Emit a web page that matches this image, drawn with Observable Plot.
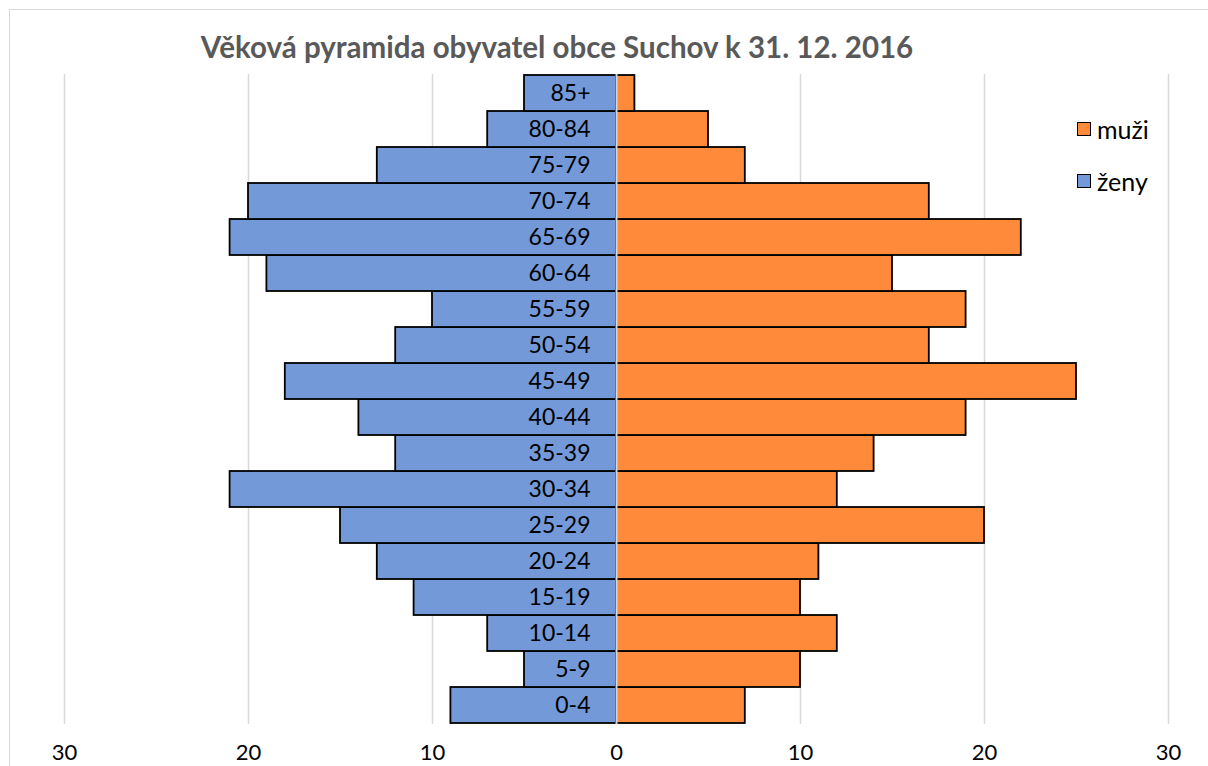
<!DOCTYPE html>
<html>
<head>
<meta charset="utf-8">
<script src="https://cdn.jsdelivr.net/npm/d3@7"></script>
<script src="https://cdn.jsdelivr.net/npm/@observablehq/plot@0.6"></script>
<style>
  html, body { margin: 0; padding: 0; background: #fff; }
  #wrap { position: relative; width: 1208px; height: 766px; overflow: hidden; font-family: Lato, "Open Sans", sans-serif; }
  #frame { position: absolute; left: 9px; top: 9px; width: 1300px; height: 900px; border: 1.5px solid #d9d9d9; box-sizing: border-box; }
  #title { position: relative; height: 60px; width: 1114px; text-align: center; font-weight: bold; font-size: 29.5px; color: #595959; line-height: 1; padding-top: 32px; box-sizing: border-box; }
  #chart { position: relative; }
  #legend { position: absolute; left: 1077px; top: 114px; font-size: 25px; color: #000; }
  .li { display: flex; align-items: center; height: 30px; margin-bottom: 22px; }
  .sw { width: 12px; height: 12px; border: 1.5px solid #000; margin-right: 6px; }
</style>
</head>
<body>
<div id="wrap">
  <div id="frame"></div>
  <div id="title">Věková pyramida obyvatel obce Suchov k 31. 12. 2016</div>
  <div id="chart"></div>
  <div id="legend"></div>
</div>
<script>
const ageGroups = ["0-4","5-9","10-14","15-19","20-24","25-29","30-34","35-39","40-44","45-49","50-54","55-59","60-64","65-69","70-74","75-79","80-84","85+"];
const muzi = [7,10,12,10,11,20,12,14,19,25,17,19,15,22,17,7,5,1];
const zeny = [9,5,7,11,13,15,21,12,14,18,12,10,19,21,20,13,7,5];
const xTicks = [-30,-20,-10,0,10,20,30];
const seriesNames = ["muži","ženy"];
const colors = ["#FF8A3A","#7399D9"];

const data = [];
ageGroups.forEach((g,i) => {
  data.push({age: g, sex: "muži", value: muzi[i]});
  data.push({age: g, sex: "ženy", value: -zeny[i]});
});

const plot = Plot.plot({
  width: 1208,
  height: 706,
  marginLeft: 64,
  marginRight: 40,
  marginTop: 14,
  marginBottom: 42,
  style: {fontFamily: "Lato, 'Open Sans', sans-serif", fontSize: "22px", color: "#000", background: "transparent"},
  x: {domain: [-30, 30], ticks: xTicks, tickFormat: d => Math.abs(d), tickSize: 0, tickPadding: 20, label: null},
  y: {domain: ageGroups.slice().reverse(), padding: 0, axis: null},
  color: {domain: seriesNames, range: colors},
  marks: [
    Plot.ruleX(xTicks.filter(d => d !== 0), {stroke: "#d9d9d9", strokeWidth: 1.5}),
    Plot.barX(data, {x: "value", y: "age", fill: "sex", stroke: "#000", strokeWidth: 1.8}),
    Plot.ruleX([0], {stroke: "#cfd6e0", strokeWidth: 2}),
    Plot.text(ageGroups, {x: () => 0, y: d => d, text: d => d, textAnchor: "end", dx: -26, fontSize: 23, fill: "#000"})
  ]
});
document.getElementById("chart").appendChild(plot);

const legend = document.getElementById("legend");
seriesNames.forEach((n, i) => {
  const row = document.createElement("div");
  row.className = "li";
  const sw = document.createElement("div");
  sw.className = "sw";
  sw.style.background = colors[i];
  const t = document.createElement("span");
  t.textContent = n;
  row.appendChild(sw); row.appendChild(t);
  legend.appendChild(row);
});
</script>
</body>
</html>
